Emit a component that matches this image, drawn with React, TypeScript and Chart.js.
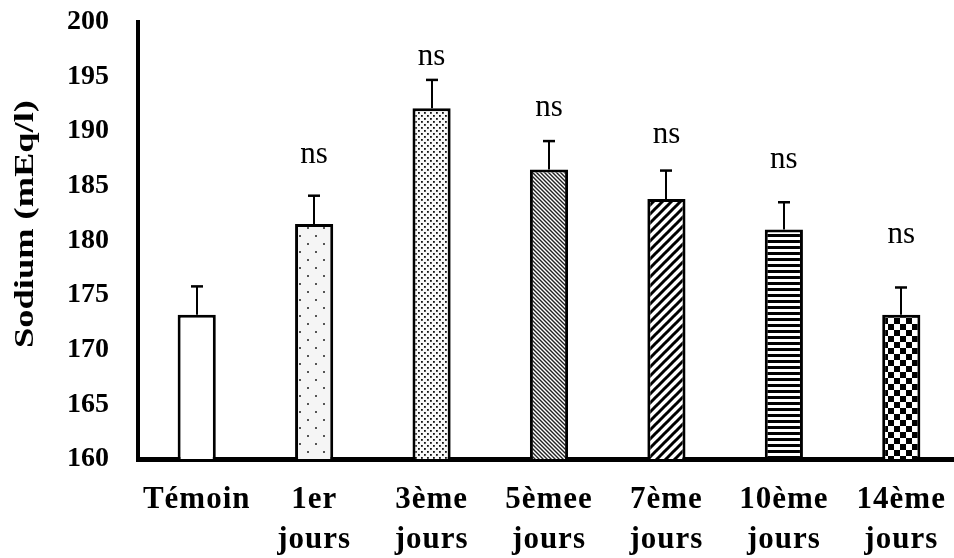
import React, { useEffect, useRef } from 'react';
import { Chart, registerables } from 'chart.js';

Chart.register(...registerables);

// Sampling days (two-line labels on the category axis)
const groupLabels: (string | string[])[] = [
  'Témoin',
  ['1er', 'jours'],
  ['3ème', 'jours'],
  ['5èmee', 'jours'],
  ['7ème', 'jours'],
  ['10ème', 'jours'],
  ['14ème', 'jours'],
];

// Mean plasma sodium (mEq/l) and its error (upper whisker only)
const sodiumMeans = [173.2, 181.5, 192.1, 186.5, 183.8, 181.0, 173.2];
const sodiumErrors = [2.6, 2.6, 2.6, 2.6, 2.6, 2.5, 2.5];

// Significance marks versus the control, and the level at which each is written
const significance = ['', 'ns', 'ns', 'ns', 'ns', 'ns', 'ns'];
const significanceLevel = [0, 187.8, 196.8, 192.1, 189.7, 187.4, 180.5];

// Fill style of each bar
const barFills = ['plain', 'sparseDots', 'denseDots', 'fineDiagonal', 'wideDiagonal', 'hStripes', 'checker'];

const yMin = 160;
const yMax = 200;
const yStep = 5;

const SERIF = "'Liberation Serif', 'Times New Roman', serif";

function makeTile(
  ctx: CanvasRenderingContext2D,
  w: number,
  h: number,
  paint: (g: CanvasRenderingContext2D) => void
): CanvasPattern | string {
  const c = document.createElement('canvas');
  c.width = w;
  c.height = h;
  const g = c.getContext('2d');
  if (!g) return '#ffffff';
  paint(g);
  return ctx.createPattern(c, 'repeat') || '#ffffff';
}

function makeFill(ctx: CanvasRenderingContext2D, kind: string): CanvasPattern | string {
  switch (kind) {
    case 'sparseDots':
      return makeTile(ctx, 16, 16, (g) => {
        g.fillStyle = '#f5f5f5';
        g.fillRect(0, 0, 16, 16);
        g.fillStyle = '#555';
        g.fillRect(3, 3, 2, 2);
        g.fillRect(11, 11, 2, 2);
      });
    case 'denseDots':
      return makeTile(ctx, 6, 6, (g) => {
        g.fillStyle = '#f8f8f8';
        g.fillRect(0, 0, 6, 6);
        g.fillStyle = '#111';
        g.fillRect(1, 1, 1.8, 1.8);
        g.fillRect(4, 4, 1.8, 1.8);
      });
    case 'fineDiagonal':
      return makeTile(ctx, 4, 4, (g) => {
        g.fillStyle = '#ffffff';
        g.fillRect(0, 0, 4, 4);
        g.strokeStyle = '#222';
        g.lineWidth = 1.4;
        for (let k = -1; k <= 1; k++) {
          g.beginPath();
          g.moveTo(k * 4 - 1, -1);
          g.lineTo(k * 4 + 5, 5);
          g.stroke();
        }
      });
    case 'wideDiagonal':
      return makeTile(ctx, 9, 9, (g) => {
        g.fillStyle = '#ffffff';
        g.fillRect(0, 0, 9, 9);
        g.strokeStyle = '#000';
        g.lineWidth = 3;
        for (let k = 0; k <= 2; k++) {
          const c = k * 9;
          g.beginPath();
          g.moveTo(-1, c + 1);
          g.lineTo(10, c - 10);
          g.stroke();
        }
      });
    case 'hStripes':
      return makeTile(ctx, 6, 6, (g) => {
        g.fillStyle = '#ffffff';
        g.fillRect(0, 0, 6, 6);
        g.fillStyle = '#000';
        g.fillRect(0, 0, 6, 3);
      });
    case 'checker':
      return makeTile(ctx, 12, 12, (g) => {
        g.fillStyle = '#ffffff';
        g.fillRect(0, 0, 12, 12);
        g.fillStyle = '#000';
        g.fillRect(0, 0, 6, 6);
        g.fillRect(6, 6, 6, 6);
      });
    default:
      return '#ffffff';
  }
}

// Upper error whiskers with a short cap
const errorBarPlugin = {
  id: 'errorBars',
  afterDatasetsDraw(chart: any) {
    const { ctx } = chart;
    const y = chart.scales.y;
    const meta = chart.getDatasetMeta(0);
    ctx.save();
    ctx.strokeStyle = '#000';
    meta.data.forEach((bar: any, i: number) => {
      const x = Math.round(bar.x);
      const yBase = y.getPixelForValue(sodiumMeans[i]);
      const yTop = y.getPixelForValue(sodiumMeans[i] + sodiumErrors[i]);
      ctx.lineWidth = 2;
      ctx.beginPath();
      ctx.moveTo(x, yBase);
      ctx.lineTo(x, yTop);
      ctx.stroke();
      ctx.lineWidth = 2.5;
      ctx.beginPath();
      ctx.moveTo(x - 6, yTop);
      ctx.lineTo(x + 6, yTop);
      ctx.stroke();
    });
    ctx.restore();
  },
};

// "ns" marks above the treated groups
const significancePlugin = {
  id: 'significance',
  afterDatasetsDraw(chart: any) {
    const { ctx } = chart;
    const y = chart.scales.y;
    const meta = chart.getDatasetMeta(0);
    ctx.save();
    ctx.fillStyle = '#000';
    ctx.font = `31px ${SERIF}`;
    ctx.textAlign = 'center';
    ctx.textBaseline = 'middle';
    meta.data.forEach((bar: any, i: number) => {
      if (!significance[i]) return;
      ctx.fillText(significance[i], bar.x, y.getPixelForValue(significanceLevel[i]));
    });
    ctx.restore();
  },
};

// Vertical axis title, drawn wide
const yTitlePlugin = {
  id: 'yTitle',
  afterDraw(chart: any) {
    const { ctx } = chart;
    ctx.save();
    ctx.translate(26, 224);
    ctx.rotate(-Math.PI / 2);
    ctx.scale(1.3, 1);
    ctx.fillStyle = '#000';
    ctx.font = `bold 28px ${SERIF}`;
    ctx.textAlign = 'center';
    ctx.textBaseline = 'middle';
    ctx.fillText('Sodium (mEq/l)', 0, 0);
    ctx.restore();
  },
};

// Slightly tracked category labels
const trackedLabelsPlugin = {
  id: 'trackedLabels',
  beforeDraw(chart: any) {
    const xs = chart.scales.x;
    if (xs && !xs.__tracked) {
      const original = xs.drawLabels;
      xs.drawLabels = function (area: any) {
        const c = this.ctx;
        c.save();
        c.letterSpacing = '1px';
        original.call(this, area);
        c.restore();
      };
      xs.__tracked = true;
    }
  },
};

export default function App() {
  const canvasRef = useRef<HTMLCanvasElement | null>(null);

  useEffect(() => {
    const canvas = canvasRef.current;
    if (!canvas) return;
    const ctx = canvas.getContext('2d');
    if (!ctx) return;

    const prevBody = document.body.style.overflow;
    const prevHtml = document.documentElement.style.overflow;
    document.body.style.overflow = 'hidden';
    document.documentElement.style.overflow = 'hidden';

    const fills = barFills.map((k) => makeFill(ctx, k));

    const chart = new Chart(ctx, {
      type: 'bar',
      data: {
        labels: groupLabels,
        datasets: [
          {
            data: sodiumMeans,
            backgroundColor: fills as any,
            borderColor: '#000',
            borderWidth: 3,
            borderSkipped: 'start',
            barPercentage: 0.325,
            categoryPercentage: 1,
          },
        ],
      },
      options: {
        responsive: false,
        animation: false,
        devicePixelRatio: 1,
        layout: { padding: { top: 22, right: 2, left: 0, bottom: 0 } },
        plugins: {
          legend: { display: false },
          tooltip: { enabled: false },
        },
        scales: {
          x: {
            offset: true,
            grid: { display: false, drawTicks: false },
            border: { display: true, color: '#000', width: 5 },
            ticks: {
              color: '#000',
              padding: 21,
              maxRotation: 0,
              autoSkip: false,
              font: { family: SERIF, size: 31, weight: 'bold', lineHeight: 1.3 },
            },
            afterFit(scale: any) {
              scale.height = 99;
              scale.paddingLeft = 0;
              scale.paddingRight = 0;
            },
          },
          y: {
            min: yMin,
            max: yMax,
            grid: { display: false, drawTicks: false },
            border: { display: true, color: '#000', width: 4 },
            ticks: {
              stepSize: yStep,
              color: '#000',
              padding: 29,
              font: { family: SERIF, size: 28, weight: 'bold' },
            },
            afterFit(scale: any) {
              scale.width = 138;
              scale.paddingTop = 0;
              scale.paddingBottom = 0;
            },
          },
        },
      },
      plugins: [trackedLabelsPlugin, errorBarPlugin, significancePlugin, yTitlePlugin],
    });

    return () => {
      chart.destroy();
      document.body.style.overflow = prevBody;
      document.documentElement.style.overflow = prevHtml;
    };
  }, []);

  return (
    <div style={{ position: 'absolute', left: 0, top: 0, width: 962, height: 558, background: '#fff' }}>
      <canvas ref={canvasRef} width={962} height={558} style={{ display: 'block', width: 962, height: 558 }} />
    </div>
  );
}
